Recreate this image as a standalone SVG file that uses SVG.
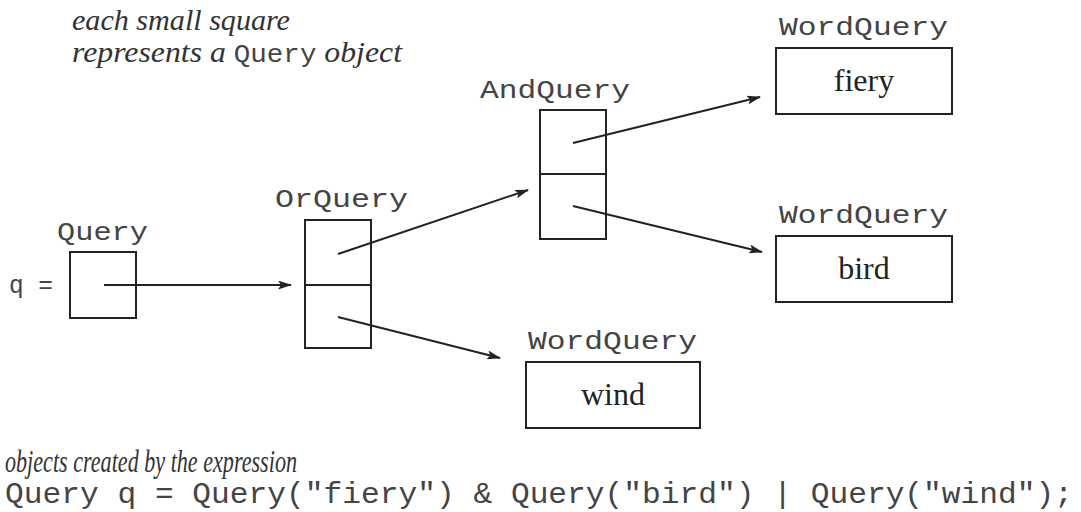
<svg xmlns="http://www.w3.org/2000/svg" width="1081" height="512" viewBox="0 0 1081 512">
<style>
.box{fill:none;stroke:#222;stroke-width:2}
.conn{stroke:#222;stroke-width:2;fill:none;marker-end:url(#ah)}
.mono{font-family:"Liberation Mono","DejaVu Sans Mono",monospace;font-size:26px;fill:#444}
.serif{font-family:"Liberation Serif","DejaVu Serif",serif;font-size:32px;fill:#222}
.it{font-family:"Liberation Serif","DejaVu Serif",serif;font-style:italic;font-size:30px;fill:#333}
</style>
<defs>
<marker id="ah" markerWidth="14" markerHeight="9" refX="13" refY="4.5" orient="auto" markerUnits="userSpaceOnUse">
<path d="M0,0 L14,4.5 L0,9 L3,4.5 Z" fill="#222"/>
</marker>
</defs>
<rect width="1081" height="512" fill="#fff"/>
<g id="note-top">
<text class="it" x="72" y="30" textLength="218" lengthAdjust="spacingAndGlyphs">each small square</text>
<text class="it" x="72" y="62" textLength="330" lengthAdjust="spacingAndGlyphs">represents a <tspan class="mono" style="font-style:normal">Query</tspan> object</text>
</g>
<g id="query">
<text class="mono" x="57" y="240" textLength="91" lengthAdjust="spacingAndGlyphs">Query</text>
<text class="mono" x="9" y="293" textLength="44" lengthAdjust="spacingAndGlyphs">q =</text>
<rect class="box" x="70" y="252" width="66" height="66"/>
</g>
<g id="orquery">
<text class="mono" x="275" y="207" textLength="133" lengthAdjust="spacingAndGlyphs">OrQuery</text>
<rect class="box" x="305" y="220" width="66" height="128"/>
<line class="box" x1="305" y1="285" x2="371" y2="285"/>
</g>
<g id="andquery">
<text class="mono" x="480" y="98" textLength="150" lengthAdjust="spacingAndGlyphs">AndQuery</text>
<rect class="box" x="540" y="110" width="66" height="129"/>
<line class="box" x1="540" y1="174" x2="606" y2="174"/>
</g>
<g id="word-fiery">
<text class="mono" x="779" y="35" textLength="169" lengthAdjust="spacingAndGlyphs">WordQuery</text>
<rect class="box" x="776" y="48" width="176" height="66"/>
<text class="serif" x="864" y="91" text-anchor="middle">fiery</text>
</g>
<g id="word-bird">
<text class="mono" x="779" y="223" textLength="169" lengthAdjust="spacingAndGlyphs">WordQuery</text>
<rect class="box" x="776" y="236" width="176" height="66"/>
<text class="serif" x="864" y="279" text-anchor="middle">bird</text>
</g>
<g id="word-wind">
<text class="mono" x="528" y="349" textLength="169" lengthAdjust="spacingAndGlyphs">WordQuery</text>
<rect class="box" x="526" y="362" width="174" height="66"/>
<text class="serif" x="613" y="405" text-anchor="middle">wind</text>
</g>
<g id="connectors">
<line class="conn" x1="104" y1="285" x2="291" y2="285"/>
<line class="conn" x1="338" y1="254" x2="528" y2="190"/>
<line class="conn" x1="338" y1="317" x2="500" y2="358"/>
<line class="conn" x1="573" y1="143" x2="760" y2="97"/>
<line class="conn" x1="573" y1="206" x2="762" y2="252"/>
</g>
<g id="note-bottom">
<text class="it" x="5" y="472" style="font-size:32px" textLength="292" lengthAdjust="spacingAndGlyphs">objects created by the expression</text>
<text class="mono" x="5" y="503" style="font-size:29px" textLength="1068" lengthAdjust="spacingAndGlyphs">Query q = Query("fiery") &amp; Query("bird") | Query("wind");</text>
</g>
</svg>
